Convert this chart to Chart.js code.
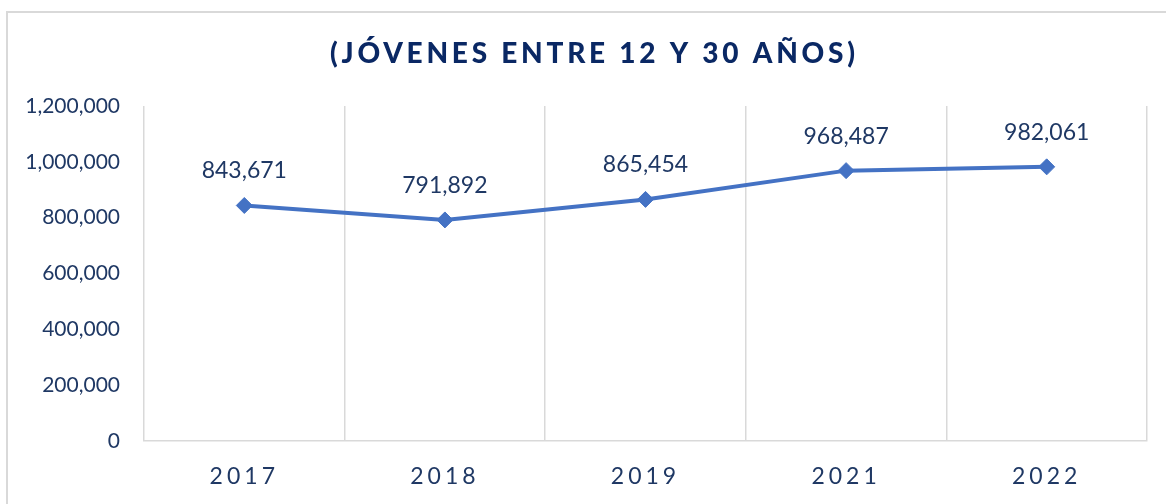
<!DOCTYPE html>
<html>
<head>
<meta charset="utf-8">
<script src="https://cdn.jsdelivr.net/npm/chart.js@4.4.1/dist/chart.umd.min.js"></script>
<style>
  html, body { margin: 0; padding: 0; background: #ffffff; overflow: hidden; }
  #wrap { position: relative; width: 1166px; height: 504px; overflow: hidden; }
  #frame { position: absolute; left: 6px; top: 11px; width: 1300px; height: 700px; border: 2px solid #d9d9d9; box-sizing: border-box; }
  canvas { position: absolute; left: 0; top: 0; }
</style>
</head>
<body>
<div id="wrap">
  <div id="frame"></div>
  <canvas id="c" width="1166" height="504"></canvas>
</div>
<script>
const titleText = '(JÓVENES ENTRE 12 Y 30 AÑOS)';
const categories = ['2017', '2018', '2019', '2021', '2022'];
const values = [843671, 791892, 865454, 968487, 982061];
const yTicks = [0, 200000, 400000, 600000, 800000, 1000000, 1200000];

const NAVY = '#1f3864';
const TITLE_NAVY = '#0a2864';
const LINE_BLUE = '#4472c4';
const GRID = '#d9d9d9';
const FONT = 'Lato, "Open Sans", "Noto Sans", sans-serif';
const TITLE_WEIGHT = '900';

const fmt = v => Number(v).toLocaleString('en-US');

const spacingPlugin = {
  id: 'spacing',
  beforeDraw(chart) {
    const xs = chart.scales.x;
    if (xs && !xs.__wrapped) {
      const orig = xs.drawLabels;
      xs.drawLabels = function (area) {
        this.ctx.save();
        this.ctx.letterSpacing = '4px';
        orig.call(this, area);
        this.ctx.restore();
      };
      xs.__wrapped = true;
    }
    const t = chart.titleBlock;
    if (t && !t.__wrapped) {
      const orig = t.draw;
      t.draw = function () {
        const ctx = this.ctx;
        ctx.save();
        ctx.font = TITLE_WEIGHT + ' 28px ' + FONT;
        ctx.letterSpacing = '0px';
        const w = ctx.measureText(titleText).width;
        const sp = Math.max(0, (525 - w) / (titleText.length - 1));
        ctx.letterSpacing = sp + 'px';
        ctx.translate(19 + sp / 2, 0);
        orig.call(this);
        ctx.restore();
      };
      t.__wrapped = true;
    }
  }
};

const labelPlugin = {
  id: 'pointLabels',
  afterDatasetsDraw(chart) {
    const ctx = chart.ctx;
    const meta = chart.getDatasetMeta(0);
    ctx.save();
    ctx.font = '23px ' + FONT;
    ctx.fillStyle = NAVY;
    ctx.textAlign = 'center';
    ctx.textBaseline = 'alphabetic';
    meta.data.forEach((pt, i) => {
      ctx.fillText(fmt(chart.data.datasets[0].data[i]), pt.x, pt.y - 27);
    });
    ctx.restore();
  }
};

new Chart(document.getElementById('c'), {
  type: 'line',
  data: {
    labels: categories,
    datasets: [{
      data: values,
      borderColor: LINE_BLUE,
      backgroundColor: LINE_BLUE,
      borderWidth: 4,
      pointStyle: 'rectRot',
      pointRadius: 8,
      pointHoverRadius: 8,
      pointBorderWidth: 1,
      pointBorderColor: LINE_BLUE,
      pointBackgroundColor: LINE_BLUE,
      tension: 0,
      fill: false
    }]
  },
  options: {
    responsive: false,
    animation: false,
    events: [],
    layout: { padding: { left: 0, right: 19, top: 0, bottom: 0 } },
    plugins: {
      legend: { display: false },
      tooltip: { enabled: false },
      title: {
        display: true,
        text: titleText,
        color: TITLE_NAVY,
        font: { family: FONT, size: 28, weight: TITLE_WEIGHT, lineHeight: 1.2 },
        padding: { top: 37, bottom: 35.4 }
      }
    },
    scales: {
      x: {
        type: 'category',
        offset: true,
        grid: { display: true, offset: true, color: GRID, lineWidth: 1.5, drawTicks: false },
        border: { display: true, color: GRID, width: 1.5 },
        ticks: { color: NAVY, font: { family: FONT, size: 23 }, padding: 22, maxRotation: 0, autoSkip: false },
        afterFit(scale) { scale.height = 63; }
      },
      y: {
        min: 0,
        max: 1200000,
        afterBuildTicks(scale) { scale.ticks = yTicks.map(v => ({ value: v })); },
        grid: { display: false, drawTicks: false },
        border: { display: false },
        ticks: { color: NAVY, font: { family: FONT, size: 21 }, padding: 24, callback: v => fmt(v) },
        afterFit(scale) { scale.width = 144; }
      }
    }
  },
  plugins: [spacingPlugin, labelPlugin]
});
</script>
</body>
</html>
